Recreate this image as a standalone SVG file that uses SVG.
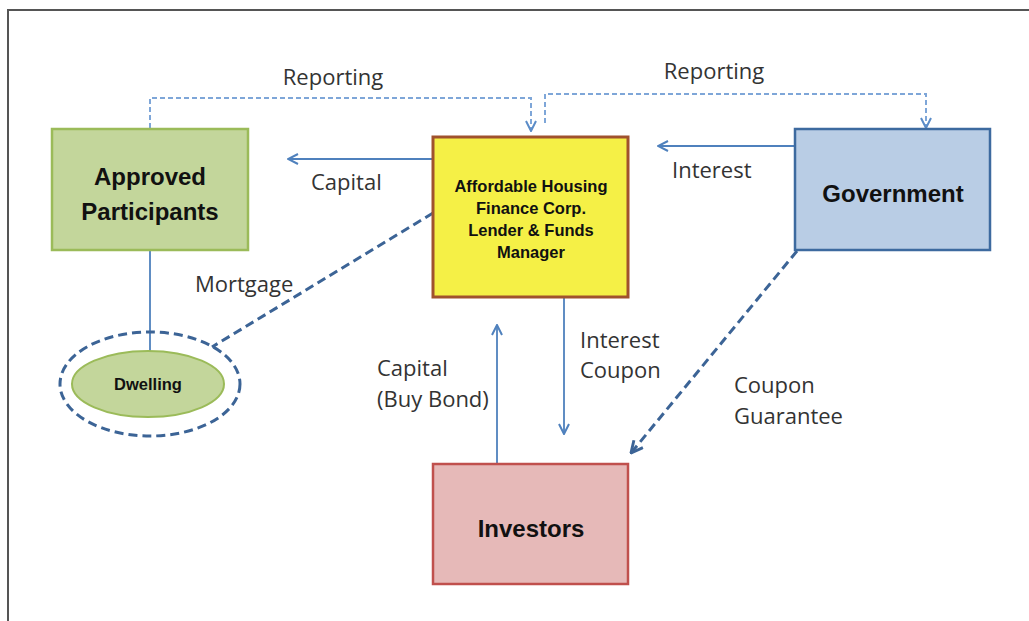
<svg xmlns="http://www.w3.org/2000/svg" width="1029" height="621" viewBox="0 0 1029 621">
<defs>
<marker id="ah" viewBox="0 0 12 12" refX="11" refY="6" markerWidth="12" markerHeight="12" markerUnits="userSpaceOnUse" orient="auto">
<path d="M1,1 L11,6 L1,11" fill="none" stroke="#4f81bd" stroke-width="2"/>
</marker>
<marker id="ahl" viewBox="0 0 12 12" refX="11" refY="6" markerWidth="12" markerHeight="12" markerUnits="userSpaceOnUse" orient="auto">
<path d="M1,1 L11,6 L1,11" fill="none" stroke="#5b8cc8" stroke-width="2"/>
</marker>
<marker id="ahd" viewBox="0 0 12 12" refX="11" refY="6" markerWidth="14" markerHeight="14" markerUnits="userSpaceOnUse" orient="auto">
<path d="M1,1 L11,6 L1,11" fill="none" stroke="#3c6496" stroke-width="2.5"/>
</marker>
</defs>
<style>
.box{stroke-width:2.5}
.big{font-family:"Liberation Sans",Arial,sans-serif;font-weight:bold;font-size:24px;fill:#111;text-anchor:middle}
.mid{font-family:"Liberation Sans",Arial,sans-serif;font-weight:bold;font-size:16.5px;fill:#111;text-anchor:middle}
.lbl{font-family:"Open Sans",sans-serif;font-size:22px;fill:#333}
.solid{fill:none;stroke:#4f81bd;stroke-width:1.8}
.rep{fill:none;stroke:#7ea6d8;stroke-width:2;stroke-dasharray:5 3}
.dash{fill:none;stroke:#3c6496;stroke-width:3;stroke-dasharray:9 5}
</style>
<rect x="0" y="0" width="1029" height="621" fill="#fff"/>
<rect x="8" y="10" width="1040" height="630" fill="none" stroke="#555" stroke-width="2"/>
<g id="connectors">
<path class="rep" d="M150,128 V98 H531 V131" marker-end="url(#ahl)"/>
<path class="rep" d="M545,123 V94 H926 V128" marker-end="url(#ahl)"/>
<path class="solid" d="M433,159 H288" marker-end="url(#ah)"/>
<path class="solid" d="M795,146 H658" marker-end="url(#ah)"/>
<path class="solid" d="M150,250 V352"/>
<path class="dash" d="M433,213 L212,347"/>
<path class="solid" d="M497,464 V325" marker-end="url(#ah)"/>
<path class="solid" d="M564,297 V434" marker-end="url(#ah)"/>
<path class="dash" d="M797,251 L631,453" marker-end="url(#ahd)"/>
</g>
<g id="labels">
<text class="lbl" x="333" y="85" text-anchor="middle">Reporting</text>
<text class="lbl" x="714" y="79" text-anchor="middle">Reporting</text>
<text class="lbl" x="311" y="190">Capital</text>
<text class="lbl" x="672" y="178">Interest</text>
<text class="lbl" x="195" y="292">Mortgage</text>
<text class="lbl" x="580" y="348">Interest</text>
<text class="lbl" x="580" y="378">Coupon</text>
<text class="lbl" x="377" y="376">Capital</text>
<text class="lbl" x="377" y="407">(Buy Bond)</text>
<text class="lbl" x="734" y="393">Coupon</text>
<text class="lbl" x="734" y="424">Guarantee</text>
</g>
<g id="approved">
<rect class="box" x="52" y="129" width="196" height="121" fill="#c3d69b" stroke="#9bbb59"/>
<text class="big" x="150" y="185">Approved</text>
<text class="big" x="150" y="220">Participants</text>
</g>
<g id="ahfc">
<rect x="433" y="137" width="195" height="160" fill="#f5f046" stroke="#a0522d" stroke-width="3"/>
<text class="mid" x="531" y="192">Affordable Housing</text>
<text class="mid" x="531" y="214">Finance Corp.</text>
<text class="mid" x="531" y="236">Lender &amp; Funds</text>
<text class="mid" x="531" y="258">Manager</text>
</g>
<g id="government">
<rect class="box" x="795" y="129" width="195" height="121" fill="#b9cde5" stroke="#3d6a9f"/>
<text class="big" x="893" y="202" font-size="25">Government</text>
</g>
<g id="investors">
<rect class="box" x="433" y="464" width="195" height="120" fill="#e6b9b8" stroke="#c0504d"/>
<text class="big" x="531" y="537">Investors</text>
</g>
<g id="dwelling">
<ellipse cx="150" cy="384" rx="90" ry="52" fill="none" stroke="#3c6496" stroke-width="3" stroke-dasharray="9 5"/>
<ellipse cx="148" cy="384" rx="76" ry="33" fill="#c3d69b" stroke="#9bbb59" stroke-width="2"/>
<text class="mid" x="148" y="390" font-size="14.3">Dwelling</text>
</g>
</svg>
